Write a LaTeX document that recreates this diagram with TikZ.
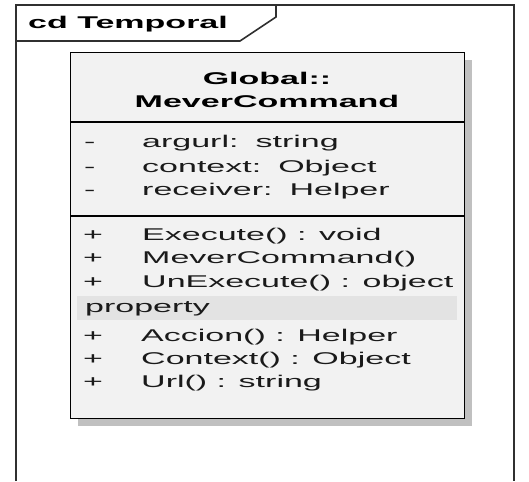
\documentclass[tikz,border=0pt]{standalone}
\usepackage{fontspec}
\newfontfamily\umlfont[FakeStretch=2.0]{Liberation Sans}
\definecolor{boxfill}{HTML}{F2F2F2}
\definecolor{bandfill}{HTML}{E3E3E3}
\definecolor{shadowc}{HTML}{C0C0C0}
\definecolor{framec}{HTML}{303030}
\definecolor{txtc}{HTML}{1A1A1A}
\tikzset{
  frameline/.style={draw=framec, line width=1.6pt},
  boxline/.style={draw=black, line width=1.3pt},
  member/.style={anchor=base west, inner sep=0pt, text=txtc, font=\umlfont\fontsize{17}{17}\selectfont},
  titletxt/.style={anchor=base, inner sep=0pt, text=black, font=\umlfont\bfseries\fontsize{17}{17}\selectfont},
}
\newcommand{\attsp}{\hspace{17pt}}
\begin{document}
\begin{tikzpicture}[x=1pt,y=-1pt]
\useasboundingbox (0,0) rectangle (529,481);
\fill[white] (0,0) rectangle (529,481);
% frame
\coordinate (fbl) at (16,481);
\coordinate (ftl) at (16,5);
\coordinate (ftr) at (514,5);
\coordinate (fbr) at (514,481);
\draw[frameline] (fbl) -- (ftl) -- (ftr) -- (fbr);
\coordinate (tabl) at (16,41);
\coordinate (tabb) at (240,41);
\coordinate (tabd) at (276,17);
\coordinate (tabt) at (276,5);
\draw[frameline] (tabl) -- (tabb) -- (tabd) -- (tabt);
\node[titletxt, anchor=base west] (tabtitle) at (28,29) {cd Temporal};
% shadow and class box
\node[fill=shadowc, inner sep=0pt, minimum width=394pt, minimum height=366pt, anchor=north west] (shadow) at (78,60) {};
\node[boxline, fill=boxfill, inner sep=0pt, minimum width=394pt, minimum height=366pt, anchor=north west] (cls) at (70,52) {};
% property band
\node[fill=bandfill, inner sep=0pt, minimum width=380pt, minimum height=24pt, anchor=north west] (band) at (77,296) {};
% dividers
\coordinate (d1l) at (70,122);
\coordinate (d1r) at (464,122);
\coordinate (d2l) at (70,216);
\coordinate (d2r) at (464,216);
\draw[boxline] (d1l) -- (d1r);
\draw[boxline] (d2l) -- (d2r);
% title
\node[titletxt] (t1) at (267,85) {Global::};
\node[titletxt] (t2) at (267,108) {MeverCommand};
% attributes
\node[member] (a1v) at (84,148) {-};
\node[member] (a1) at (142,148) {argurl:\attsp string};
\node[member] (a2v) at (84,172) {-};
\node[member] (a2) at (142,172) {context:\attsp Object};
\node[member] (a3v) at (84,195) {-};
\node[member] (a3) at (142,195) {receiver:\attsp Helper};
% operations
\node[member] (o1v) at (83,240) {+};
\node[member] (o1) at (142,240) {Execute() : void};
\node[member] (o2v) at (83,263) {+};
\node[member] (o2) at (142,263) {MeverCommand()};
\node[member] (o3v) at (83,287) {+};
\node[member] (o3) at (142,287) {UnExecute() : object};
\node[member] (prop) at (85,312) {property};
\node[member] (p1v) at (83,341) {+};
\node[member] (p1) at (141,341) {Accion() : Helper};
\node[member] (p2v) at (83,364) {+};
\node[member] (p2) at (141,364) {Context() : Object};
\node[member] (p3v) at (83,387) {+};
\node[member] (p3) at (141,387) {Url() : string};
\end{tikzpicture}
\end{document}
